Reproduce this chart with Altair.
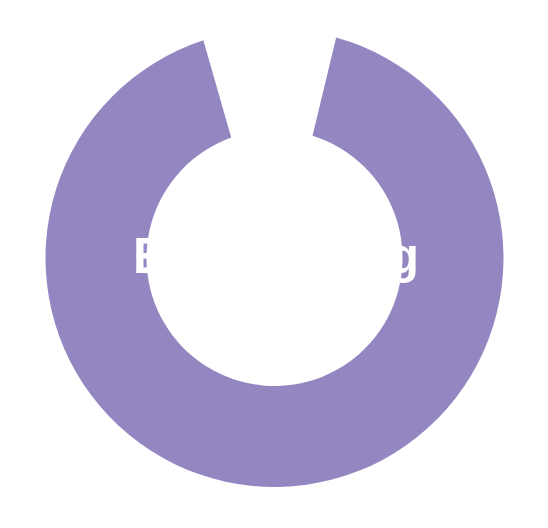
import math
import altair as alt
import pandas as pd

# Data
categories = ["Gap", "Engineering"]
values = [8.2, 91.8]
colors = ["#ffffff", "#9487c1"]
sort_order = [0, 1]
label_text = "Engineering"

df = pd.DataFrame({"category": categories, "value": values, "order": sort_order})

start = math.radians(-16.0)

W, H = 532, 500

arc = alt.Chart(df).mark_arc(innerRadius=128, outerRadius=229, padAngle=0.064).encode(
    theta=alt.Theta("value:Q", stack=True, scale=alt.Scale(range=[start, start + 2 * math.pi])),
    order=alt.Order("order:Q"),
    color=alt.Color("category:N", scale=alt.Scale(domain=categories, range=colors), legend=None),
    x=alt.value(W / 2 + 0.5),
    y=alt.value(H / 2),
)

label = alt.Chart(pd.DataFrame({"label": [label_text]})).mark_text(
    font="Liberation Sans", fontSize=49.5, fontWeight="bold", color="white", baseline="alphabetic", align="center"
).encode(
    text="label:N",
    x=alt.value(W / 2 + 2),
    y=alt.value(265),
)

chart = alt.layer(arc, label).properties(width=W, height=H, padding=0).configure_view(stroke=None)

chart.save("out.html", embed_options={"renderer": "svg", "actions": False})
